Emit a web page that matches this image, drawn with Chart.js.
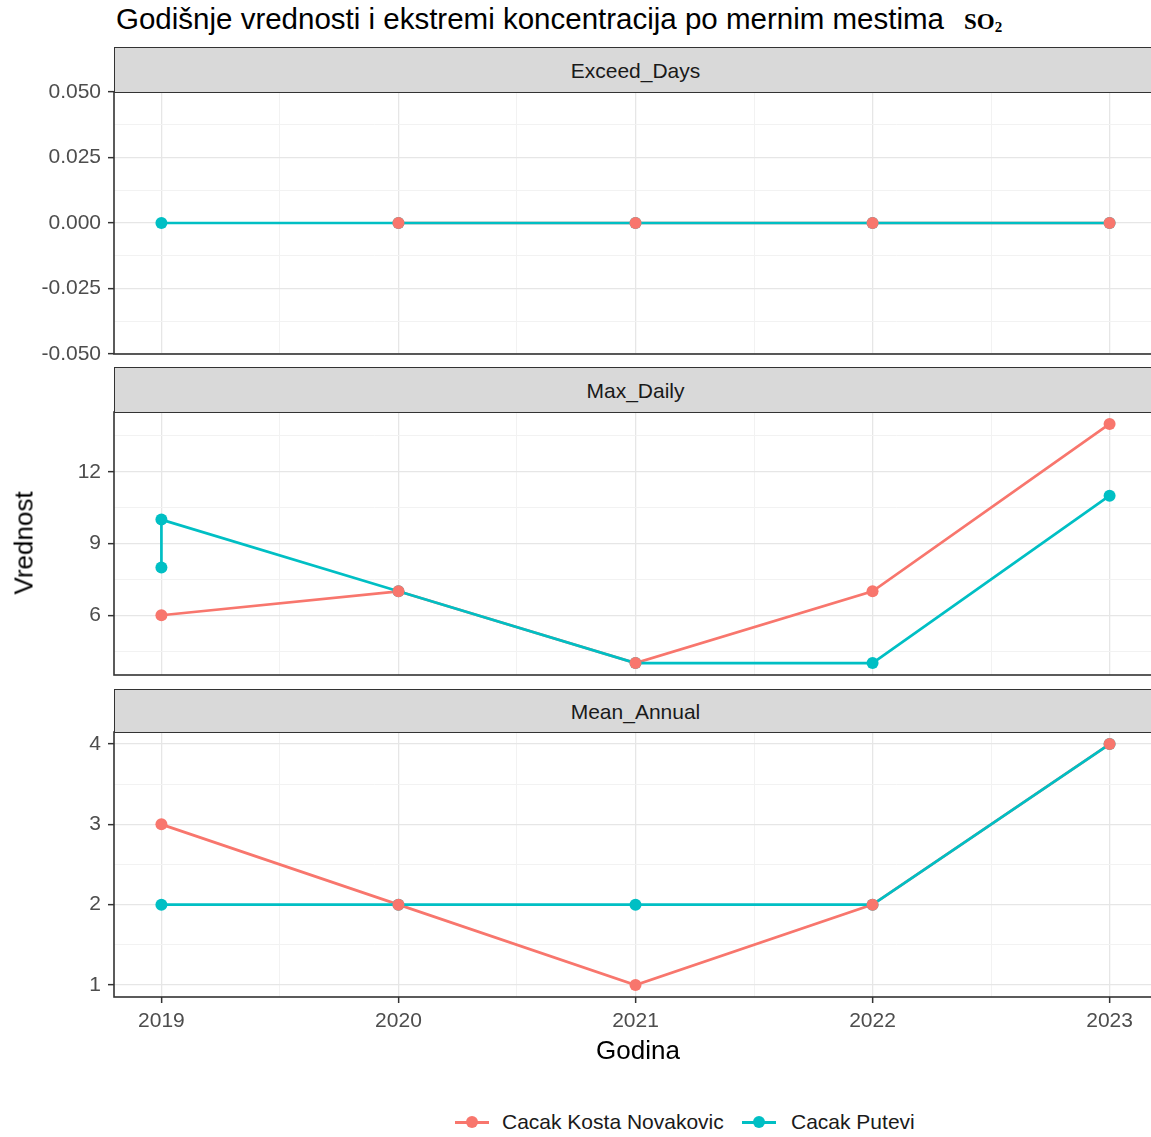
<!DOCTYPE html>
<html>
<head>
<meta charset="utf-8">
<script src="https://cdn.jsdelivr.net/npm/chart.js@4"></script>
<style>
    body { margin: 0; background: #fff; overflow: hidden; width: 1151px; height: 1137px; position: relative; font-family: "Liberation Sans", Arial, sans-serif; }
    canvas { position: absolute; left: 0; }
    .title { position: absolute; left: 116px; top: 2px; font-size: 29.5px; line-height: 34px; color: #000; white-space: nowrap; }
    .title .chem { font-family: "Liberation Serif", "DejaVu Serif", serif; font-weight: bold; font-size: 23px; margin-left: 20px; }
    .title .chem sub { font-size: 15px; vertical-align: -3px; }
    .strip { position: absolute; left: 114px; width: 1043px; box-sizing: border-box; border: 1.6px solid #333; background: #D9D9D9;
             font-size: 21px; color: #1A1A1A; text-align: center; z-index: 2; padding-top: 2px; }
    .axTitle { position: absolute; font-size: 26px; color: #000; white-space: nowrap; }
    .legend { position: absolute; top: 1109px; font-size: 21px; color: #1A1A1A; white-space: nowrap; line-height: 26px; }
    .key { position: absolute; top: 12px; width: 34px; height: 2.7px; }
    .key i { position: absolute; left: 11px; top: -5px; width: 12px; height: 12px; border-radius: 50%; }
</style>
</head>
<body>
<div class="title">Godišnje vrednosti i ekstremi koncentracija po mernim mestima<span class="chem">SO<sub>2</sub></span></div>

<div class="strip" style="top:47px;height:46px;line-height:41px;">Exceed_Days</div>
<div class="strip" style="top:367px;height:46px;line-height:41px;">Max_Daily</div>
<div class="strip" style="top:689px;height:44px;line-height:39px;">Mean_Annual</div>

<canvas id="c1" width="1170" height="302" style="top:72px"></canvas>
<canvas id="c2" width="1170" height="303" style="top:392px"></canvas>
<canvas id="c3" width="1170" height="325" style="top:712px"></canvas>

<div class="axTitle" style="left:24px;top:543px;transform:translate(-50%,-50%) rotate(-90deg);">Vrednost</div>
<div class="axTitle" style="left:638px;top:1050px;transform:translate(-50%,-50%);">Godina</div>

<div class="legend" style="left:455px;"><span class="key" style="left:0;background:#F8766D"><i style="background:#F8766D"></i></span><span style="margin-left:47px">Cacak Kosta Novakovic</span></div>
<div class="legend" style="left:742px;"><span class="key" style="left:0;background:#00BFC4"><i style="background:#00BFC4"></i></span><span style="margin-left:49px">Cacak Putevi</span></div>

<script>
        // Years and values
        const years = [2019, 2020, 2021, 2022, 2023];

        // Exceed_Days
        const exceedKosta = [null, 0, 0, 0, 0];
        const exceedPutevi = [0, 0, 0, 0, 0];

        // Max_Daily (Putevi has two readings for 2019)
        const maxKosta = [6, 7, 4, 7, 14];
        const maxPuteviYears = [2019, 2019, 2020, 2021, 2022, 2023];
        const maxPutevi = [8, 10, 7, 4, 4, 11];

        // Mean_Annual
        const meanKosta = [3, 2, 1, 2, 4];
        const meanPutevi = [2, 2, 2, 2, 4];

        // Tick labels
        const exceedTicks = [-0.05, -0.025, 0, 0.025, 0.05];
        const maxTicks = [6, 9, 12];
        const meanTicks = [1, 2, 3, 4];
        const yearTicks = years;

        const RED = '#F8766D';
        const CYAN = '#00BFC4';

        // minor lines halfway between majors (like ggplot)
        function withMinors(major) {
            const out = [];
            const step = major[1] - major[0];
            for (let i = 0; i < major.length; i++) {
                out.push({ value: major[i], major: true });
                out.push({ value: major[i] + step / 2, major: false });
            }
            out.unshift({ value: major[0] - step / 2, major: false });
            return out;
        }

        const panelBorder = {
            id: 'panelBorder',
            afterDraw(chart) {
                const { ctx, chartArea: a } = chart;
                ctx.save();
                ctx.strokeStyle = '#333333';
                ctx.lineWidth = 1.6;
                ctx.strokeRect(a.left, a.top, a.right - a.left, a.bottom - a.top);
                ctx.restore();
            }
        };

        function makeSets(kX, kY, pX, pY) {
            const kosta = kX.map((x, i) => ({ x: x, y: kY[i] }));
            const putevi = pX.map((x, i) => ({ x: x, y: pY[i] }));
            const line = { borderWidth: 2.7, pointRadius: 0, fill: false, tension: 0 };
            const pts = { showLine: false, pointRadius: 6, pointBorderWidth: 0 };
            return [
                { ...line, label: 'Cacak Kosta Novakovic', data: kosta, borderColor: RED, order: 4 },
                { ...line, label: 'Cacak Putevi', data: putevi, borderColor: CYAN, order: 3 },
                { ...pts, label: 'Cacak Putevi', data: putevi, backgroundColor: CYAN, pointBackgroundColor: CYAN, borderColor: CYAN, order: 2 },
                { ...pts, label: 'Cacak Kosta Novakovic', data: kosta, backgroundColor: RED, pointBackgroundColor: RED, borderColor: RED, order: 1 }
            ];
        }

        function gridOpts(isMinor) {
            return {
                color: ctx => isMinor(ctx.tick) ? '#F2F2F2' : '#E6E6E6',
                lineWidth: ctx => isMinor(ctx.tick) ? 1 : 1.3,
                tickColor: ctx => isMinor(ctx.tick) ? 'rgba(0,0,0,0)' : '#333333',
                tickLength: 6,
                tickWidth: 1.5
            };
        }

        function renderPanel(id, datasets, yMin, yMax, yMajor, fmt, showX) {
            const yTicks = withMinors(yMajor).filter(t => t.value >= yMin && t.value <= yMax);
            const xTicks = withMinors(yearTicks).filter(t => t.value >= 2018.8 && t.value <= 2023.2);
            const xMinor = t => !Number.isInteger(t.value);

            new Chart(document.getElementById(id).getContext('2d'), {
                type: 'line',
                data: { datasets: datasets },
                options: {
                    responsive: false,
                    animation: false,
                    events: [],
                    layout: { padding: { top: 20, bottom: showX ? 0 : 20, left: 0, right: 13 } },
                    plugins: { legend: { display: false }, tooltip: { enabled: false } },
                    scales: {
                        x: {
                            type: 'linear',
                            min: 2018.8,
                            max: 2023.2,
                            afterBuildTicks: s => { s.ticks = xTicks.map(t => ({ value: t.value })); },
                            afterFit: s => { s.height = showX ? 40 : 0; },
                            border: { display: false },
                            grid: showX ? gridOpts(xMinor) : { ...gridOpts(xMinor), drawTicks: false },
                            ticks: {
                                display: showX,
                                autoSkip: false,
                                maxRotation: 0,
                                padding: 6,
                                color: '#4D4D4D',
                                font: { family: 'Liberation Sans', size: 21 },
                                callback: v => Number.isInteger(v) ? String(v) : ''
                            }
                        },
                        y: {
                            min: yMin,
                            max: yMax,
                            afterBuildTicks: s => { s.ticks = yTicks.map(t => ({ value: t.value })); },
                            afterFit: s => { s.width = 114; },
                            border: { display: false },
                            grid: gridOpts(t => !yMajor.some(m => Math.abs(m - t.value) < 1e-9)),
                            ticks: {
                                autoSkip: false,
                                padding: 7,
                                color: '#4D4D4D',
                                font: { family: 'Liberation Sans', size: 21 },
                                callback: v => yMajor.some(m => Math.abs(m - v) < 1e-9) ? fmt(v) : ''
                            }
                        }
                    }
                },
                plugins: [panelBorder]
            });
        }

        renderPanel('c1', makeSets(years, exceedKosta, years, exceedPutevi), -0.05, 0.05, exceedTicks, v => v.toFixed(3), false);
        renderPanel('c2', makeSets(years, maxKosta, maxPuteviYears, maxPutevi), 3.5, 14.5, maxTicks, v => String(v), false);
        renderPanel('c3', makeSets(years, meanKosta, years, meanPutevi), 0.85, 4.15, meanTicks, v => String(v), true);
</script>
</body>
</html>
